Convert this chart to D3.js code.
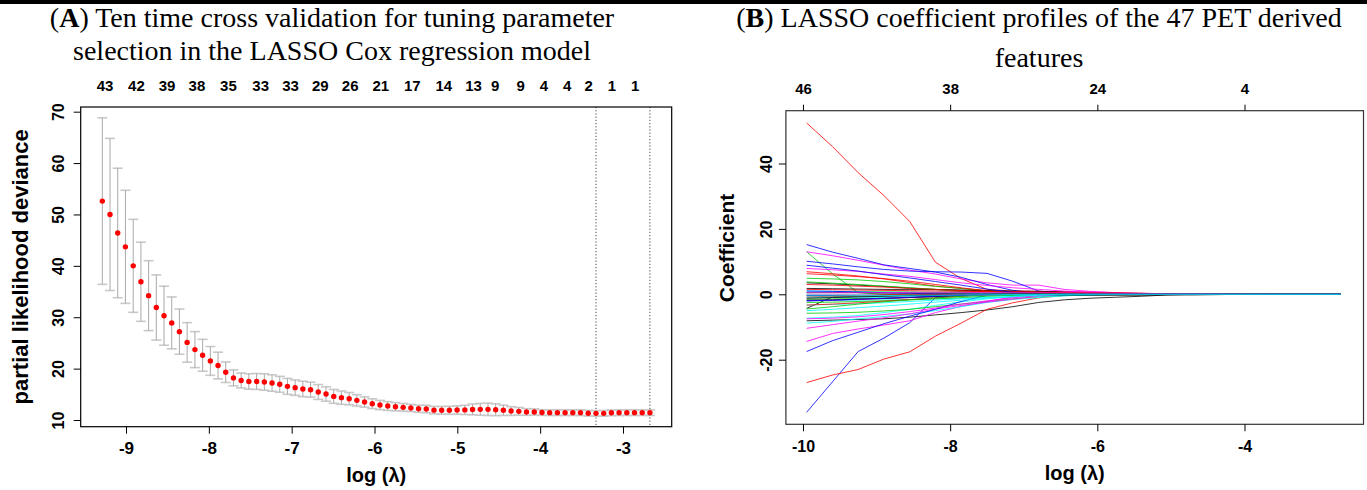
<!DOCTYPE html>
<html><head><meta charset="utf-8">
<script src="https://cdn.jsdelivr.net/npm/d3@7"></script>
<style>body{margin:0;background:#fff}svg{display:block}</style>
</head><body>
<svg id="c" width="1367" height="490"></svg>
<script>
// ---------- Panel A data: 10-fold CV for LASSO Cox ----------
const cvLogLambda = [-9.286,-9.193,-9.100,-9.007,-8.913,-8.820,-8.727,-8.634,-8.541,-8.448,
 -8.355,-8.262,-8.168,-8.075,-7.982,-7.889,-7.796,-7.703,-7.610,-7.517,
 -7.423,-7.330,-7.237,-7.144,-7.051,-6.958,-6.865,-6.772,-6.679,-6.585,
 -6.492,-6.399,-6.306,-6.213,-6.120,-6.027,-5.934,-5.840,-5.747,-5.654,
 -5.561,-5.468,-5.375,-5.282,-5.189,-5.096,-5.003,-4.909,-4.816,-4.723,
 -4.630,-4.537,-4.444,-4.351,-4.258,-4.165,-4.071,-3.978,-3.885,-3.792,
 -3.699,-3.606,-3.513,-3.420,-3.326,-3.233,-3.140,-3.047,-2.954,-2.861,
 -2.768,-2.675];
const cvMean = [52.6,50.0,46.4,43.7,40.0,36.9,34.2,31.9,30.3,28.9,
 27.2,25.1,23.7,22.6,21.5,20.6,19.3,18.2,17.7,17.5,
 17.5,17.4,17.2,16.95,16.55,16.3,16.05,15.9,15.45,15.06,
 14.6,14.35,14.15,13.83,13.5,13.18,12.92,12.72,12.59,12.47,
 12.34,12.2,12.14,11.92,11.89,11.89,11.95,11.97,12.06,12.08,
 12.08,12.0,11.89,11.75,11.69,11.56,11.56,11.45,11.43,11.43,
 11.43,11.43,11.43,11.33,11.3,11.3,11.4,11.43,11.43,11.43,
 11.43,11.43];
const cvSd = [16.2,14.8,12.6,11.0,9.05,7.7,6.8,6.35,5.75,5.05,
 4.4,3.85,3.5,3.1,2.8,2.6,2.0,1.55,1.45,1.5,
 1.55,1.6,1.6,1.55,1.55,1.5,1.5,1.45,1.45,1.4,
 1.35,1.3,1.2,1.1,1.0,0.95,0.9,0.85,0.8,0.75,
 0.7,0.7,0.72,0.72,0.75,0.78,0.82,0.9,1.05,1.15,
 1.2,1.15,1.0,0.85,0.75,0.65,0.6,0.55,0.55,0.55,
 0.55,0.55,0.55,0.55,0.55,0.55,0.55,0.55,0.55,0.55,
 0.55,0.55];
const lambdaMinLog = -3.326;
const lambda1seLog = -2.675;
const cvXTicks = [-9,-8,-7,-6,-5,-4,-3];
const cvYTicks = [10,20,30,40,50,60,70];
const cvTopLabels = ["43","42","39","38","35","33","33","29","26","21","17","14","13","9","9","4","4","2","1","1"];
const cvTopAt = [-9.26,-8.88,-8.51,-8.15,-7.77,-7.38,-7.02,-6.66,-6.30,-5.93,-5.55,-5.17,-4.81,-4.55,-4.24,-3.96,-3.68,-3.42,-3.14,-2.86];

// ---------- Panel B data: coefficient profiles ----------
const profLogLambda = [-9.95,-9.6,-9.25,-8.9,-8.55,-8.2,-7.85,-7.5,-7.15,-6.8,-6.45,-6.1,-5.75,-5.4,-5.05,-4.7,-4.35,-4.0,-3.65,-2.69];
const coefProfiles = [
 [-8.1,-7.9,-7.7,-7.5,-7.0,-6.3,-5.6,-4.8,-3.8,-2.5,-1.7,-1.2,-0.9,-0.6,-0.2,0,0,0,0,0],
 [52.4,45.2,37.2,30.2,22.3,9.8,4.8,1.5,1.0,0.9,0.8,0.7,0.5,0.3,0.1,0,0,0,0,0],
 [13.0,6.3,0.5,0,0,0,0,0,0,0,0,0,0,0,0,0,0,0,0,0],
 [-36.1,-26.8,-17.5,-13.4,-8.7,-1.0,0,0,0,0,0,0,0,0,0,0,0,0,0,0],
 [-7.3,-7.0,-6.5,-5.6,-4.6,-3.4,-2.3,-1.4,-0.8,-0.4,-0.1,0,0,0,0,0,0,0,0,0],
 [13.0,11.8,10.4,8.9,7.4,6.2,4.7,3.5,2.8,2.8,1.5,0.9,0.5,0.3,0.15,0,0,0,0,0],
 [-4.3,-0.8,-0.6,-0.5,-0.4,-0.3,-0.2,0,0,0,0,0,0,0,0,0,0,0,0,0],
 [-27.0,-24.7,-23.0,-19.8,-17.6,-12.8,-8.8,-4.6,-2.6,-1.1,-0.4,0,0,0,0,0,0,0,0,0],
 [-5.8,-5.7,-5.5,-5.1,-4.6,-3.8,-3.0,-2.2,-1.4,-0.8,-0.3,0,0,0,0,0,0,0,0,0],
 [15.2,12.9,11.0,9.0,7.9,6.8,5.2,3.0,1.2,0.3,0,0,0,0,0,0,0,0,0,0],
 [-3.3,-3.1,-2.9,-2.6,-2.2,-1.8,-1.4,-1.0,-0.7,-0.4,-0.2,0,0,0,0,0,0,0,0,0],
 [-14.4,-12.0,-10.6,-9.4,-8.1,-5.6,-3.7,-2.2,-0.8,0,0,0,0,0,0,0,0,0,0,0],
 [3.5,3.2,2.8,2.4,1.9,1.5,1.2,0.9,0.7,0.4,0.2,0,0,0,0,0,0,0,0,0],
 [6.9,6.3,5.6,4.7,3.6,2.5,1.8,1.2,0.7,0.4,0.2,0,0,0,0,0,0,0,0,0],
 [4.9,4.7,4.4,3.9,3.2,2.4,1.8,1.0,0.4,0.1,0,0,0,0,0,0,0,0,0,0],
 [10.1,9.3,8.4,7.6,7.1,6.9,6.8,6.4,4.0,1.0,0.3,0,0,0,0,0,0,0,0,0],
 [-8.8,-8.3,-7.5,-6.8,-6.0,-5.0,-3.8,-2.5,-1.6,-1.0,-0.5,-0.1,0,0,0,0,0,0,0,0],
 [-10.4,-9.3,-8.2,-7.2,-6.0,-4.5,-3.4,-2.4,-1.5,-0.6,0,0,0,0,0,0,0,0,0,0],
 [1.8,1.7,1.6,1.5,1.5,1.4,1.3,1.1,1.0,0.9,0.7,0.5,0.3,0.1,0,0,0,0,0,0],
 [6.3,5.9,5.4,4.8,4.0,3.0,2.0,1.0,0.8,0.7,0.6,0.5,0.3,0.2,0,0,0,0,0,0],
 [3.8,3.4,3.0,2.5,2.0,1.5,0.8,0,0,0,0,0,0,0,0,0,0,0,0,0],
 [-17.5,-14.2,-11.6,-9.0,-6.7,-4.6,-2.2,-0.3,0,0,0,0,0,0,0,0,0,0,0,0],
 [-2.0,-1.9,-1.8,-1.7,-1.6,-1.4,-1.2,-1.0,-0.8,-0.6,-0.4,-0.3,-0.1,0,0,0,0,0,0,0],
 [7.9,7.5,7.0,6.2,5.5,4.5,3.5,2.7,2.0,1.5,1.0,0.6,0.3,0.1,0,0,0,0,0,0],
 [-0.3,-0.3,-0.3,-0.3,-0.3,-0.3,-0.3,-0.3,-0.3,-0.3,-0.3,-0.3,-0.3,-0.3,-0.2,-0.2,-0.1,0,0,0],
 [3.0,2.8,2.5,2.2,1.8,1.5,1.1,0.8,0.5,0.2,0,0,0,0,0,0,0,0,0,0],
 [-1.5,-1.4,-1.3,-1.1,-0.9,-0.7,-0.5,-0.3,-0.1,0,0,0,0,0,0,0,0,0,0,0],
 [-0.3,-0.3,-0.3,-0.3,-0.3,-0.2,-0.2,-0.2,-0.1,-0.1,-0.1,0,0,0,0,0,0,0,0,0],
 [-1.0,-1.0,-0.9,-0.9,-0.8,-0.7,-0.6,-0.5,-0.4,-0.3,-0.2,-0.1,0,0,0,0,0,0,0,0],
 [-7.5,-7.3,-6.9,-6.2,-5.3,-4.2,-3.0,-2.0,-1.1,-0.4,0,0,0,0,0,0,0,0,0,0],
 [0.5,0.5,0.5,0.4,0.4,0.3,0.2,0.1,0,0,0,0,0,0,0,0,0,0,0,0],
 [1.5,1.4,1.3,1.2,1.1,1.0,0.9,0.8,0.7,0.6,0.5,0.5,0.4,0.3,0.2,0.1,0,0,0,0],
 [-2.5,-2.4,-2.2,-2.0,-1.7,-1.4,-1.0,-0.6,-0.3,0,0,0,0,0,0,0,0,0,0,0],
 [8.9,8.0,7.1,6.0,5.0,3.9,2.8,1.6,0.6,0,0,0,0,0,0,0,0,0,0,0],
 [1.0,0.9,0.8,0.7,0.6,0.5,0.4,0.2,0,0,0,0,0,0,0,0,0,0,0,0],
 [-2.0,-1.8,-1.6,-1.3,-1.0,-0.7,-0.4,-0.1,0,0,0,0,0,0,0,0,0,0,0,0],
 [-1.2,-1.0,-0.8,-0.6,-0.4,-0.2,0,0,0,0,0,0,0,0,0,0,0,0,0,0],
 [-3.3,-3.0,-2.6,-2.1,-1.6,-1.1,-0.6,-0.2,0,0,0,0,0,0,0,0,0,0,0,0],
 [0.5,0.6,0.7,0.7,0.7,0.6,0.6,0.5,0.4,0.3,0.2,0.1,0,0,0,0,0,0,0,0],
 [1.0,0.9,0.7,0.5,0.3,0.1,0,0,0,0,0,0,0,0,0,0,0,0,0,0],
 [-5.0,-4.6,-4.1,-3.6,-3.0,-2.4,-1.8,-1.2,-0.7,-0.3,0,0,0,0,0,0,0,0,0,0],
 [0.5,0.5,0.5,0.5,0.6,0.6,0.6,0.5,0.5,0.45,0.4,0.35,0.3,0.25,0.2,0.15,0.1,0.05,0,0],
 [-1.8,-1.7,-1.5,-1.3,-1.0,-0.7,-0.4,-0.1,0,0,0,0,0,0,0,0,0,0,0,0],
 [-0.8,-0.6,-0.4,-0.2,0,0,0,0,0,0,0,0,0,0,0,0,0,0,0,0],
 [-4.5,-3.8,-3.0,-2.3,-1.7,-1.1,-0.6,0,0,0,0,0,0,0,0,0,0,0,0,0],
 [-2.0,-1.8,-1.5,-1.2,-0.9,-0.6,-0.3,0,0,0,0,0,0,0,0,0,0,0,0,0],
 [-0.5,-0.5,-0.4,-0.4,-0.3,-0.3,-0.2,-0.2,-0.1,-0.1,0,0,0,0,0,0,0,0,0,0]
];
const profXTicks = [-10,-8,-6,-4];
const profYTicks = [-20,0,20,40];
const profTopLabels = ["46","38","24","4"];
const rPalette = ["#000000","#FF0000","#00CD00","#0000FF","#00FFFF","#FF00FF"];

// ---------- drawing ----------
const svg = d3.select("#c");
const AX_FONT = "'Liberation Sans', Arial, Helvetica, sans-serif";
const SERIF = "'Liberation Serif', 'Times New Roman', serif";

svg.append("rect").attr("x",0).attr("y",0).attr("width",1367).attr("height",4).attr("fill","#000");

function title(cx, lines, label){
  const t = svg.append("g").attr("font-family", SERIF).attr("font-size", 28).attr("fill","#000").attr("text-anchor","middle");
  lines.forEach((ln, i) => {
    const txt = t.append("text").attr("x", cx).attr("y", ln.y);
    if (i === 0) {
      txt.append("tspan").text("(");
      txt.append("tspan").attr("font-weight","bold").text(label);
      txt.append("tspan").text(") " + ln.t);
    } else txt.text(ln.t);
  });
}
title(332, [{t:"Ten time cross validation for tuning parameter", y:27},{t:"selection in the LASSO Cox regression model", y:60}], "A");
title(1039, [{t:"LASSO coefficient profiles of the 47 PET derived", y:27},{t:"features", y:67}], "B");

function styleAxis(g, size){
  g.select(".domain").remove();
  g.selectAll("line").attr("stroke","#000").attr("stroke-width",1);
  g.selectAll("text").attr("font-family",AX_FONT).attr("font-weight","bold").attr("font-size",size).attr("fill","#000");
}

// Panel A
const A = {l:80.7, r:671.7, t:107, b:426.7};
const xA = d3.scaleLinear().domain([-9.547,-2.412]).range([A.l, A.r]);
const yA = d3.scaleLinear().domain([8.70,70.91]).range([A.b, A.t]);

const gA = svg.append("g");
const bars = gA.append("g");
cvLogLambda.forEach((lx, i) => {
  const x = xA(lx), y1 = yA(cvMean[i]+cvSd[i]), y0 = yA(cvMean[i]-cvSd[i]);
  bars.append("line").attr("x1",x-5).attr("x2",x+5).attr("y1",y1).attr("y2",y1).attr("stroke","#c9c9c9").attr("stroke-width",1.6);
  bars.append("line").attr("x1",x-5).attr("x2",x+5).attr("y1",y0).attr("y2",y0).attr("stroke","#c9c9c9").attr("stroke-width",1.6);
});
cvLogLambda.forEach((lx, i) => {
  const x = xA(lx);
  bars.append("line").attr("x1",x).attr("x2",x).attr("y1",yA(cvMean[i]+cvSd[i])).attr("y2",yA(cvMean[i]-cvSd[i])).attr("stroke","#a9a9a9").attr("stroke-width",1);
});
[lambdaMinLog, lambda1seLog].forEach(v => {
  gA.append("line").attr("x1",xA(v)).attr("x2",xA(v)).attr("y1",A.t).attr("y2",A.b)
    .attr("stroke","#444").attr("stroke-width",1).attr("stroke-dasharray","1.2,2");
});
gA.append("g").selectAll("circle").data(cvLogLambda).join("circle")
  .attr("cx", d => xA(d)).attr("cy", (d,i) => yA(cvMean[i])).attr("r",2.7).attr("fill","#ff0000");
gA.append("rect").attr("x",A.l).attr("y",A.t).attr("width",A.r-A.l).attr("height",A.b-A.t)
  .attr("fill","none").attr("stroke","#000").attr("stroke-width",1.2);
const axA_b = gA.append("g").attr("transform",`translate(0,${A.b})`)
  .call(d3.axisBottom(xA).tickValues(cvXTicks).tickSize(7).tickPadding(8).tickFormat(d => String(d)));
styleAxis(axA_b, 17);
const axA_l = gA.append("g").attr("transform",`translate(${A.l},0)`)
  .call(d3.axisLeft(yA).tickValues(cvYTicks).tickSize(7).tickFormat(d => String(d)));
styleAxis(axA_l, 16);
axA_l.selectAll("text").attr("transform","rotate(-90)").attr("x",0).attr("y",-17).attr("dy","0").attr("text-anchor","middle");
const axA_t = gA.append("g").attr("transform",`translate(0,${A.t})`)
  .call(d3.axisTop(xA).tickValues(cvTopAt).tickSize(0).tickPadding(16).tickFormat((d,i) => cvTopLabels[i]));
styleAxis(axA_t, 15);
gA.append("text").attr("x",(A.l+A.r)/2).attr("y",482).attr("text-anchor","middle")
  .attr("font-family",AX_FONT).attr("font-weight","bold").attr("font-size",20).text("log (λ)");
gA.append("text").attr("transform",`translate(28,${(A.t+A.b)/2}) rotate(-90)`).attr("text-anchor","middle")
  .attr("font-family",AX_FONT).attr("font-weight","bold").attr("font-size",22).text("partial likelihood deviance");

// Panel B
const B = {l:785.9, r:1363.5, t:110.7, b:424.3};
const xB = d3.scaleLinear().domain([-10.232,-2.383]).range([B.l, B.r]);
const yB = d3.scaleLinear().domain([-39.76,56.15]).range([B.b, B.t]);
const gB = svg.append("g");
const line = d3.line().x((d,i) => xB(profLogLambda[i])).y(d => yB(d));
gB.append("g").selectAll("path").data(coefProfiles).join("path")
  .attr("d", d => line(d)).attr("fill","none")
  .attr("stroke", (d,i) => rPalette[i % rPalette.length]).attr("stroke-width",1).attr("stroke-opacity",0.8);
gB.append("rect").attr("x",B.l).attr("y",B.t).attr("width",B.r-B.l).attr("height",B.b-B.t)
  .attr("fill","none").attr("stroke","#333").attr("stroke-width",1.2);
const axB_b = gB.append("g").attr("transform",`translate(0,${B.b})`)
  .call(d3.axisBottom(xB).tickValues(profXTicks).tickSize(7).tickPadding(9).tickFormat(d => String(d)));
styleAxis(axB_b, 16);
const axB_t = gB.append("g").attr("transform",`translate(0,${B.t})`)
  .call(d3.axisTop(xB).tickValues(profXTicks).tickSize(6).tickPadding(11).tickFormat((d,i) => profTopLabels[i]));
styleAxis(axB_t, 15);
const axB_l = gB.append("g").attr("transform",`translate(${B.l},0)`)
  .call(d3.axisLeft(yB).tickValues(profYTicks).tickSize(7).tickFormat(d => String(d)));
styleAxis(axB_l, 16);
axB_l.selectAll("text").attr("transform","rotate(-90)").attr("x",0).attr("y",-14).attr("dy","0").attr("text-anchor","middle");
gB.append("text").attr("x",(B.l+B.r)/2).attr("y",480).attr("text-anchor","middle")
  .attr("font-family",AX_FONT).attr("font-weight","bold").attr("font-size",20).text("log (λ)");
gB.append("text").attr("transform",`translate(734,248) rotate(-90)`).attr("text-anchor","middle")
  .attr("font-family",AX_FONT).attr("font-weight","bold").attr("font-size",21).text("Coefficient");
</script>
</body></html>
